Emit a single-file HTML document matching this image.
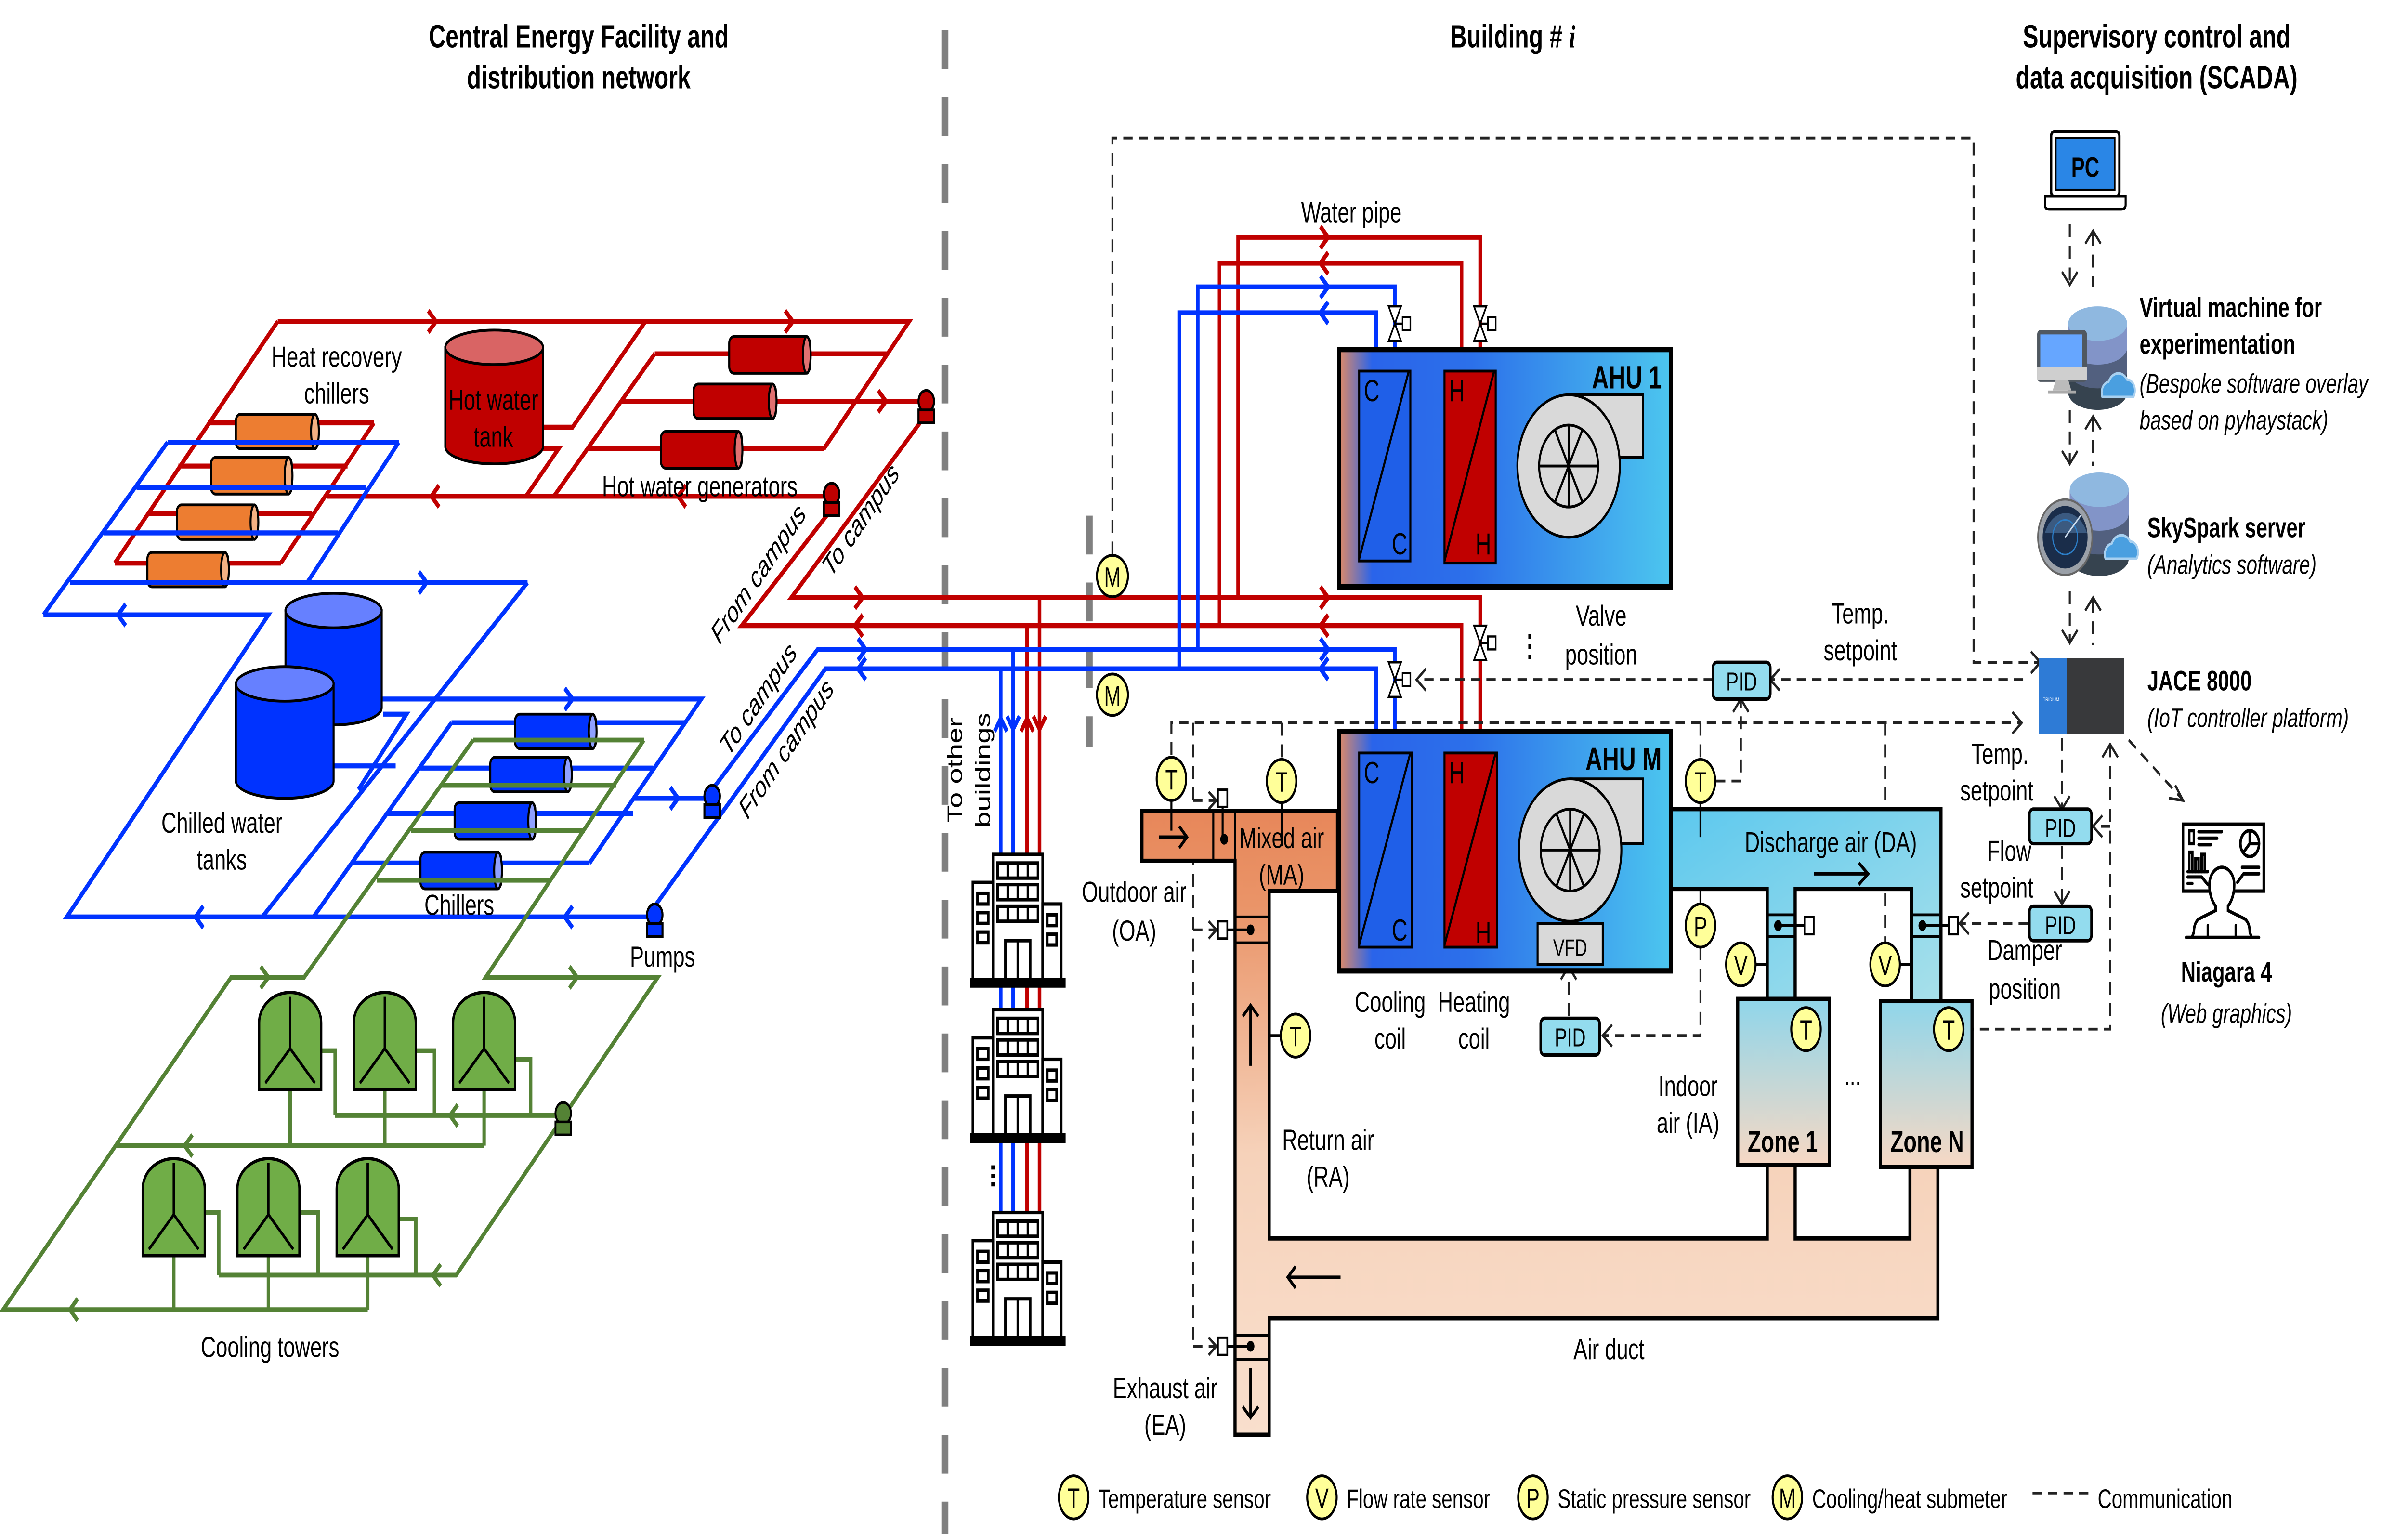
<!DOCTYPE html>
<html><head><meta charset="utf-8"><style>
html,body{margin:0;padding:0;background:#fff;width:100%;height:100%;overflow:hidden;}
svg{display:block;position:fixed;left:0;top:0;width:100vw;height:100vh;}
text{font-family:"Liberation Sans",Arial,sans-serif;}
</style></head><body>
<svg xmlns="http://www.w3.org/2000/svg" viewBox="0 0 1552 711" preserveAspectRatio="none">
<defs>
<linearGradient id="ahu" x1="0" y1="0" x2="1" y2="0">
<stop offset="0" stop-color="#e08a66"/><stop offset="0.1" stop-color="#2a64ea"/><stop offset="0.4" stop-color="#2c70ea"/><stop offset="1" stop-color="#4cc6ef"/></linearGradient>
<linearGradient id="ret" x1="0" y1="376" x2="0" y2="665" gradientUnits="userSpaceOnUse">
<stop offset="0" stop-color="#e7875a"/><stop offset="0.15" stop-color="#ea9468"/><stop offset="0.55" stop-color="#f6d2ba"/><stop offset="1" stop-color="#f9dfcd"/></linearGradient>
<linearGradient id="dis" x1="0" y1="0" x2="1" y2="1">
<stop offset="0" stop-color="#5cc8ee"/><stop offset="1" stop-color="#a8e0ea"/></linearGradient>
<linearGradient id="zone" x1="0" y1="0" x2="0" y2="1">
<stop offset="0" stop-color="#8fd6ea"/><stop offset="1" stop-color="#f7d8c4"/></linearGradient>
<g id="bld" fill="none" stroke="#000" stroke-width="1.6">
<rect x="14" y="0" width="32" height="58" fill="#fff"/>
<rect x="1" y="13" width="13" height="45" fill="#fff"/>
<rect x="46" y="23" width="12" height="35" fill="#fff"/>
<rect x="17" y="4" width="26" height="7"/><line x1="23.5" y1="4" x2="23.5" y2="11"/><line x1="30" y1="4" x2="30" y2="11"/><line x1="36.5" y1="4" x2="36.5" y2="11"/>
<rect x="17" y="14" width="26" height="7"/><line x1="23.5" y1="14" x2="23.5" y2="21"/><line x1="30" y1="14" x2="30" y2="21"/><line x1="36.5" y1="14" x2="36.5" y2="21"/>
<rect x="17" y="24" width="26" height="7"/><line x1="23.5" y1="24" x2="23.5" y2="31"/><line x1="30" y1="24" x2="30" y2="31"/><line x1="36.5" y1="24" x2="36.5" y2="31"/>
<rect x="4" y="18" width="7" height="5"/><rect x="4" y="27" width="7" height="5"/><rect x="4" y="36" width="7" height="5"/>
<rect x="49" y="28" width="6" height="5"/><rect x="49" y="37" width="6" height="5"/>
<rect x="22" y="40" width="16" height="18"/><line x1="30" y1="40" x2="30" y2="58"/>
<rect x="0" y="58" width="60" height="3" fill="#000"/>
</g>
<g id="ct" stroke="#000" stroke-width="1.5">
<path d="M0,45 V14 A20,14 0 0 1 40,14 V45 Z" fill="#70ad47"/>
<polyline points="20,2 20,26 4,42" fill="none"/><line x1="20" y1="26" x2="36" y2="42"/>
</g>
<g id="db">
<path d="M0,8 V40 A19,8 0 0 0 38,40 V8 Z" fill="#36434f"/>
<path d="M0,8 V30 A19,8 0 0 0 38,30 V8 Z" fill="#52607f"/>
<path d="M0,8 V19 A19,8 0 0 0 38,19 V8 Z" fill="#8294c8"/>
<ellipse cx="19" cy="8" rx="19" ry="8" fill="#8fb8e0"/>
</g>
<g id="cloud"><path d="M2,13 a5,5 0 0 1 4,-7 a7,7 0 0 1 12,-1 a5,5 0 0 1 4,8 Z" fill="#4a9fe0" stroke="#a8d0f0" stroke-width="1.2"/></g>
</defs>

<g font-weight="bold" font-size="15" text-anchor="middle">
<text x="373" y="22">Central Energy Facility and</text>
<text x="373" y="41">distribution network</text>
<text x="975" y="22">Building # <tspan font-style="italic" font-family="Liberation Serif,serif">i</tspan></text>
<text x="1390" y="22">Supervisory control and</text>
<text x="1390" y="41">data acquisition (SCADA)</text>
</g>

<line x1="609" y1="14" x2="609" y2="711" stroke="#808080" stroke-width="4.5" stroke-dasharray="18,13"/>
<line x1="702" y1="239" x2="702" y2="346" stroke="#808080" stroke-width="4.5" stroke-dasharray="18,13"/>

<g stroke="#c00000" stroke-width="2.3" fill="none">
<polyline points="179,149 586,149 531,208"/>
<line x1="179" y1="149" x2="74" y2="261"/>
<line x1="241" y1="196" x2="181" y2="261"/>
<line x1="134" y1="196" x2="241" y2="196"/><line x1="115" y1="216" x2="224" y2="216"/>
<line x1="96" y1="238" x2="201" y2="238"/><line x1="74" y1="261" x2="181" y2="261"/>
<line x1="211" y1="230" x2="536" y2="230"/>
<polyline points="350,198 369,198 416,149"/><polyline points="350,208 360,208 339,230"/>
<line x1="422" y1="164" x2="572" y2="164"/><line x1="401" y1="186" x2="592" y2="186"/><line x1="379" y1="208" x2="531" y2="208"/>
<line x1="422" y1="164" x2="357" y2="230"/><line x1="572" y1="164" x2="531" y2="208"/>
<polyline points="597,192 510,277 954,277 954,340"/>
<polyline points="536,236 478,290 942,290 942,340"/>
<polyline points="798,277 798,110 954,110 954,172"/>
<polyline points="786,290 786,122 942,122 942,172"/>
<line x1="662" y1="290" x2="662" y2="396"/><line x1="670" y1="277" x2="670" y2="396"/>
<line x1="662" y1="457" x2="662" y2="470"/><line x1="670" y1="457" x2="670" y2="470"/>
<line x1="662" y1="528" x2="662" y2="563"/><line x1="670" y1="528" x2="670" y2="563"/>
<polyline points="276,144 281,149 276,154"/><polyline points="506,144 511,149 506,154"/>
<polyline points="283,225 278,230 283,235"/><polyline points="442,225 437,230 442,235"/>
<polyline points="566,181 571,186 566,191"/>
<polyline points="551,272 556,277 551,282"/><polyline points="851,272 856,277 851,282"/>
<polyline points="556,285 551,290 556,295"/><polyline points="856,285 851,290 856,295"/>
<polyline points="851,105 856,110 851,115"/><polyline points="856,117 851,122 856,127"/>
<polyline points="658,339 662,333 666,339"/><polyline points="666,332 670,338 674,332"/>
</g>
<g stroke="#000" stroke-width="1.3">
<rect x="152" y="192" width="53" height="16" rx="3" fill="#ed7d31"/><ellipse cx="203" cy="200" rx="2.5" ry="8" fill="#f4b183"/>
<rect x="136" y="212" width="52" height="17" rx="3" fill="#ed7d31"/><ellipse cx="186" cy="220.5" rx="2.5" ry="8.5" fill="#f4b183"/>
<rect x="114" y="234" width="52" height="16" rx="3" fill="#ed7d31"/><ellipse cx="164" cy="242" rx="2.5" ry="8" fill="#f4b183"/>
<rect x="95" y="256" width="52" height="16" rx="3" fill="#ed7d31"/><ellipse cx="145" cy="264" rx="2.5" ry="8" fill="#f4b183"/>
<rect x="470" y="156" width="52" height="17" rx="3" fill="#c00000"/><ellipse cx="520" cy="164.5" rx="2.5" ry="8.5" fill="#e07070"/>
<rect x="447" y="178" width="53" height="16" rx="3" fill="#c00000"/><ellipse cx="498" cy="186" rx="2.5" ry="8" fill="#e07070"/>
<rect x="426" y="200" width="52" height="17" rx="3" fill="#c00000"/><ellipse cx="476" cy="208.5" rx="2.5" ry="8.5" fill="#e07070"/>
<path d="M287,161 V207 A31.5,8 0 0 0 350,207 V161 Z" fill="#c00000"/>
<ellipse cx="318.5" cy="161" rx="31.5" ry="8" fill="#d96464"/>
<circle cx="597" cy="186" r="5" fill="#c00000"/><rect x="592" y="190" width="10" height="6" fill="#c00000"/>
<circle cx="536" cy="229" r="5" fill="#c00000"/><rect x="531" y="233" width="10" height="6" fill="#c00000"/>
</g>

<g stroke="#0033ff" stroke-width="2.3" fill="none">
<line x1="108" y1="205" x2="257" y2="205"/><line x1="88" y1="226" x2="236" y2="226"/>
<line x1="67" y1="247" x2="218" y2="247"/><line x1="45" y1="270" x2="340" y2="270"/>
<line x1="108" y1="205" x2="28" y2="285"/><line x1="257" y1="205" x2="198" y2="270"/>
<polyline points="28,285 173,285 43,425 422,425"/>
<line x1="340" y1="270" x2="169" y2="425"/>
<polyline points="246,324 452,324 380,400"/>
<line x1="291" y1="335" x2="441" y2="335"/><line x1="271" y1="356" x2="421" y2="356"/>
<line x1="249" y1="377" x2="408" y2="377"/><line x1="227" y1="400" x2="380" y2="400"/>
<line x1="291" y1="335" x2="202" y2="425"/>
<line x1="215" y1="355" x2="255" y2="355"/><polyline points="247,331 262,331 231,366"/>
<line x1="408" y1="370" x2="459" y2="370"/>
<polyline points="459,366 527,301 899,301 899,349"/>
<polyline points="422,420 532,310 887,310 887,349"/>
<polyline points="772,301 772,133 899,133 899,172"/>
<polyline points="760,310 760,145 887,145 887,172"/>
<line x1="645" y1="310" x2="645" y2="396"/><line x1="653" y1="301" x2="653" y2="396"/>
<line x1="645" y1="457" x2="645" y2="470"/><line x1="653" y1="457" x2="653" y2="470"/>
<line x1="645" y1="528" x2="645" y2="563"/><line x1="653" y1="528" x2="653" y2="563"/>
<polyline points="81,280 76,285 81,290"/><polyline points="270,265 275,270 270,275"/>
<polyline points="131,420 126,425 131,430"/><polyline points="369,420 364,425 369,430"/>
<polyline points="364,319 369,324 364,329"/><polyline points="432,365 437,370 432,375"/>
<polyline points="553,296 558,301 553,306"/><polyline points="558,305 553,310 558,315"/>
<polyline points="851,296 856,301 851,306"/><polyline points="856,305 851,310 856,315"/>
<polyline points="851,128 856,133 851,138"/><polyline points="856,140 851,145 856,150"/>
<polyline points="641,339 645,333 649,339"/><polyline points="649,332 653,338 657,332"/>
</g>
<g stroke="#000" stroke-width="1.3">
<path d="M184,283 V328 A31,8 0 0 0 246,328 V283 Z" fill="#0033ff"/><ellipse cx="215" cy="283" rx="31" ry="8" fill="#6680ff"/>
<path d="M152,317 V362 A31.5,8 0 0 0 215,362 V317 Z" fill="#0033ff"/><ellipse cx="183.5" cy="317" rx="31.5" ry="8" fill="#6680ff"/>
<rect x="332" y="331" width="52" height="16" rx="3" fill="#0033ff"/><ellipse cx="382" cy="339" rx="2.5" ry="8" fill="#8fa0ff"/>
<rect x="316" y="351" width="52" height="16" rx="3" fill="#0033ff"/><ellipse cx="366" cy="359" rx="2.5" ry="8" fill="#8fa0ff"/>
<rect x="293" y="372" width="52" height="17" rx="3" fill="#0033ff"/><ellipse cx="343" cy="380.5" rx="2.5" ry="8.5" fill="#8fa0ff"/>
<rect x="271" y="395" width="52" height="17" rx="3" fill="#0033ff"/><ellipse cx="321" cy="403.5" rx="2.5" ry="8.5" fill="#8fa0ff"/>
<circle cx="459" cy="369" r="5" fill="#0033ff"/><rect x="454" y="373" width="10" height="6" fill="#0033ff"/>
<circle cx="422" cy="424" r="5" fill="#0033ff"/><rect x="417" y="428" width="10" height="6" fill="#0033ff"/>
</g>

<g stroke="#548235" stroke-width="2.2" fill="none">
<line x1="305" y1="343" x2="415" y2="343"/><line x1="285" y1="364" x2="397" y2="364"/>
<line x1="265" y1="385" x2="377" y2="385"/><line x1="243" y1="408" x2="355" y2="408"/>
<polyline points="305,343 196,453 149,453 2,607 237,607"/>
<polyline points="415,343 313,453 424,453 294,591 141,591"/>
<line x1="75" y1="531" x2="312" y2="531"/><line x1="216" y1="517" x2="363" y2="517"/>
<line x1="187" y1="505" x2="187" y2="531"/><line x1="248" y1="505" x2="248" y2="531"/><line x1="312" y1="505" x2="312" y2="531"/>
<polyline points="207,487 216,487 216,517"/><polyline points="268,487 280,487 280,517"/><polyline points="332,491 342,491 342,517"/>
<line x1="112" y1="582" x2="112" y2="607"/><line x1="173" y1="582" x2="173" y2="607"/><line x1="237" y1="582" x2="237" y2="607"/>
<polyline points="132,562 141,562 141,591"/><polyline points="193,562 205,562 205,591"/><polyline points="257,565 268,565 268,591"/>
<polyline points="168,448 173,453 168,458"/><polyline points="367,448 372,453 367,458"/>
<polyline points="124,526 119,531 124,536"/><polyline points="295,512 290,517 295,522"/>
<polyline points="50,602 45,607 50,612"/><polyline points="284,586 279,591 284,596"/>
</g>
<use href="#ct" x="167" y="460"/><use href="#ct" x="228" y="460"/><use href="#ct" x="292" y="460"/>
<use href="#ct" x="92" y="537"/><use href="#ct" x="153" y="537"/><use href="#ct" x="217" y="537"/>
<g stroke="#000" stroke-width="1.2"><circle cx="363" cy="516" r="5" fill="#548235"/><rect x="358" y="520" width="10" height="6" fill="#548235"/></g>

<g font-size="13.5" text-anchor="middle">
<text x="217" y="170">Heat recovery</text><text x="217" y="187">chillers</text>
<text x="318" y="190">Hot water</text><text x="318" y="207">tank</text>
<text x="451" y="230">Hot water generators</text>
<text x="143" y="386">Chilled water</text><text x="143" y="403">tanks</text>
<text x="296" y="424">Chillers</text>
<text x="427" y="448">Pumps</text>
<text x="174" y="629">Cooling towers</text>
<g font-style="italic">
<text transform="translate(492,269) rotate(-47)">From campus</text>
<text transform="translate(558,244) rotate(-47)">To campus</text>
<text transform="translate(492,327) rotate(-47)">To campus</text>
<text transform="translate(510,350) rotate(-47)">From campus</text>
</g>
<text transform="translate(620,357) rotate(-90)">To other</text>
<text transform="translate(638,357) rotate(-90)">buildings</text>
</g>
<use href="#bld" x="626" y="396"/><use href="#bld" x="626" y="468"/><use href="#bld" x="626" y="562"/>
<text x="636" y="550" font-size="14" font-weight="bold" transform="rotate(-90 636 545)" text-anchor="middle">...</text>

<g stroke="#222" stroke-width="1.3" fill="none" stroke-dasharray="6,4">
<polyline points="717,257 717,64 1272,64 1272,307 1314,307"/>
<polyline points="1304,315 1141,315"/><polyline points="1104,315 913,315"/>
<polyline points="755,350 755,335 1303,335"/>
<line x1="769" y1="335" x2="769" y2="625"/>
<line x1="769" y1="371" x2="784" y2="371"/><line x1="769" y1="431" x2="784" y2="431"/><line x1="769" y1="624" x2="784" y2="624"/>
<line x1="826" y1="335" x2="826" y2="352"/>
<line x1="1096" y1="335" x2="1096" y2="352"/>
<polyline points="1106,362 1122,362 1122,325"/>
<polyline points="1096,439 1096,480 1033,480"/>
<line x1="1011" y1="471" x2="1011" y2="449"/>
<line x1="1215" y1="335" x2="1215" y2="373"/><line x1="1215" y1="414" x2="1215" y2="437"/>
<polyline points="1266,477 1360,477 1360,346"/>
<line x1="1360" y1="383" x2="1350" y2="383"/>
<line x1="1329" y1="342" x2="1329" y2="374"/><line x1="1329" y1="392" x2="1329" y2="418"/>
<line x1="1307" y1="428" x2="1263" y2="428"/>
<line x1="1334" y1="104" x2="1334" y2="131"/><line x1="1349" y1="108" x2="1349" y2="133"/>
<line x1="1334" y1="190" x2="1334" y2="214"/><line x1="1349" y1="194" x2="1349" y2="216"/>
<line x1="1334" y1="274" x2="1334" y2="297"/><line x1="1349" y1="278" x2="1349" y2="299"/>
<line x1="1372" y1="343" x2="1406" y2="370"/>
<line x1="1310" y1="692" x2="1346" y2="692"/>
</g>
<g stroke="#222" stroke-width="1.3" fill="none">
<polyline points="1309,302 1315,307 1309,312"/><polyline points="1147,310 1141,315 1147,320"/>
<polyline points="919,310 913,315 919,320"/><polyline points="1297,330 1303,335 1297,340"/>
<polyline points="1117,330 1122,324 1127,330"/><polyline points="1039,475 1033,480 1039,485"/>
<polyline points="1006,454 1011,448 1016,454"/>
<polyline points="1355,351 1360,345 1365,351"/><polyline points="1355,378 1349,383 1355,388"/>
<polyline points="1324,369 1329,375 1334,369"/><polyline points="1324,413 1329,419 1334,413"/>
<polyline points="1269,423 1263,428 1269,433"/>
<polyline points="1329,126 1334,132 1339,126"/><polyline points="1344,113 1349,107 1354,113"/>
<polyline points="1329,209 1334,215 1339,209"/><polyline points="1344,199 1349,193 1354,199"/>
<polyline points="1329,292 1334,298 1339,292"/><polyline points="1344,283 1349,277 1354,283"/>
<polyline points="1398,370 1407,371 1402,364"/>
<polyline points="779,367 784,371 779,375"/><polyline points="779,427 784,431 779,435"/><polyline points="779,620 784,624 779,628"/>
</g>

<rect x="863" y="162" width="214" height="110" fill="url(#ahu)" stroke="#000" stroke-width="2.5"/>
<g stroke="#000" stroke-width="1.3">
<rect x="876" y="172" width="33" height="88" fill="#1f5fe8"/><line x1="876" y1="259" x2="908" y2="172"/>
<rect x="931" y="172" width="33" height="89" fill="#c00000"/><line x1="931" y1="260" x2="963" y2="172"/>
<rect x="1011" y="183" width="48" height="29" fill="#d9d9d9"/>
<ellipse cx="1011" cy="216" rx="33" ry="33" fill="#d9d9d9"/>
<circle cx="1011" cy="216" r="19" fill="none"/>
<path d="M992,216 H1030 M1011,197 V235 M1002,199 L1020,233 M1020,199 L1002,233" fill="none"/>
</g>
<g font-size="14"><text x="879" y="186">C</text><text x="897" y="257">C</text><text x="934" y="186">H</text><text x="951" y="257">H</text></g>
<text x="1071" y="180" font-size="15" font-weight="bold" text-anchor="end">AHU 1</text>

<path d="M736,376 H862 V413 H818 V574 H1139 V540 H1157 V574 H1231 V541 H1249 V611 H818 V665 H796 V399 H736 Z" fill="url(#ret)" stroke="#000" stroke-width="2"/>
<path d="M1077,375 H1251 V464 H1232 V412 H1157 V463 H1139 V412 H1077 Z" fill="url(#dis)" stroke="#000" stroke-width="2"/>
<g stroke="#000" stroke-width="1.3" fill="none">
<line x1="782" y1="376" x2="782" y2="399"/><line x1="796" y1="376" x2="796" y2="399"/>
<line x1="796" y1="425" x2="818" y2="425"/><line x1="796" y1="437" x2="818" y2="437"/>
<line x1="796" y1="619" x2="818" y2="619"/><line x1="796" y1="630" x2="818" y2="630"/>
<line x1="1139" y1="424" x2="1157" y2="424"/><line x1="1139" y1="434" x2="1157" y2="434"/>
<line x1="1232" y1="424" x2="1250" y2="424"/><line x1="1232" y1="434" x2="1250" y2="434"/>
<polyline points="788,374 788,388"/><polyline points="789,431 806,431"/><polyline points="789,624 806,624"/>
<polyline points="1148,429 1163,429"/><polyline points="1241,429 1256,429"/>
</g>
<g fill="#fff" stroke="#000" stroke-width="1.1">
<rect x="785" y="366" width="6" height="8"/><rect x="785" y="427" width="6" height="8"/><rect x="785" y="620" width="6" height="8"/>
<rect x="1163" y="425" width="6" height="8"/><rect x="1256" y="425" width="6" height="8"/>
</g>
<g fill="#000"><circle cx="789" cy="389" r="2.5"/><circle cx="806" cy="431" r="2.5"/><circle cx="806" cy="624" r="2.5"/><circle cx="1146" cy="429" r="2.5"/><circle cx="1239" cy="429" r="2.5"/></g>

<rect x="863" y="339" width="214" height="111" fill="url(#ahu)" stroke="#000" stroke-width="2.5"/>
<g stroke="#000" stroke-width="1.3">
<rect x="876" y="349" width="34" height="90" fill="#1f5fe8"/><line x1="876" y1="438" x2="909" y2="349"/>
<rect x="931" y="349" width="34" height="90" fill="#c00000"/><line x1="931" y1="438" x2="964" y2="349"/>
<rect x="1012" y="361" width="47" height="30" fill="#d9d9d9"/>
<ellipse cx="1012" cy="394" rx="33" ry="33" fill="#d9d9d9"/>
<circle cx="1012" cy="394" r="19" fill="none"/>
<path d="M993,394 H1031 M1012,375 V413 M1003,377 L1021,411 M1021,377 L1003,411" fill="none"/>
<rect x="991" y="428" width="42" height="19" fill="#d9d9d9"/>
</g>
<g font-size="14"><text x="879" y="363">C</text><text x="897" y="436">C</text><text x="934" y="363">H</text><text x="951" y="437">H</text></g>
<text x="1012" y="443" font-size="11" text-anchor="middle">VFD</text>
<text x="1071" y="357" font-size="15" font-weight="bold" text-anchor="end">AHU M</text>

<rect x="1120" y="463" width="59" height="77" fill="url(#zone)" stroke="#000" stroke-width="2"/>
<rect x="1212" y="464" width="59" height="77" fill="url(#zone)" stroke="#000" stroke-width="2"/>
<g font-size="14" font-weight="bold" text-anchor="middle"><text x="1149" y="534">Zone 1</text><text x="1242" y="534">Zone N</text></g>
<text x="1194" y="503" font-size="13" text-anchor="middle">...</text>

<g stroke="#000" stroke-width="1" fill="#fff">
<g transform="translate(899,150)"><polygon points="-4,-8 4,-8 0,0"/><polygon points="-4,8 4,8 0,0"/><line x1="0" y1="0" x2="5" y2="0"/><rect x="5" y="-3" width="5" height="6"/></g>
<g transform="translate(954,150)"><polygon points="-4,-8 4,-8 0,0"/><polygon points="-4,8 4,8 0,0"/><line x1="0" y1="0" x2="5" y2="0"/><rect x="5" y="-3" width="5" height="6"/></g>
<g transform="translate(954,298)"><polygon points="-4,-8 4,-8 0,0"/><polygon points="-4,8 4,8 0,0"/><line x1="0" y1="0" x2="5" y2="0"/><rect x="5" y="-3" width="5" height="6"/></g>
<g transform="translate(899,315)"><polygon points="-4,-8 4,-8 0,0"/><polygon points="-4,8 4,8 0,0"/><line x1="0" y1="0" x2="5" y2="0"/><rect x="5" y="-3" width="5" height="6"/></g>
</g>
<text x="986" y="304" font-size="14" font-weight="bold" text-anchor="middle">⋮</text>

<g stroke="#000" stroke-width="1.3">
<line x1="755" y1="370" x2="755" y2="385"/><line x1="826" y1="372" x2="826" y2="392"/>
<line x1="1096" y1="372" x2="1096" y2="388"/><line x1="1096" y1="412" x2="1096" y2="419"/>
<line x1="1132" y1="447" x2="1139" y2="447"/><line x1="1225" y1="447" x2="1232" y2="447"/>
<line x1="818" y1="480" x2="825" y2="480"/>
</g>
<g stroke="#000" stroke-width="1.3" fill="#ffff99">
<ellipse cx="755" cy="361" rx="9.5" ry="10"/><ellipse cx="826" cy="362" rx="9.5" ry="10"/>
<ellipse cx="1096" cy="362" rx="9.5" ry="10"/><ellipse cx="1096" cy="429" rx="9.5" ry="10"/>
<ellipse cx="1122" cy="447" rx="9.5" ry="10"/><ellipse cx="1215" cy="447" rx="9.5" ry="10"/>
<ellipse cx="1164" cy="477" rx="9.5" ry="10"/><ellipse cx="1256" cy="477" rx="9.5" ry="10"/>
<ellipse cx="835" cy="480" rx="9.5" ry="10"/>
<ellipse cx="717" cy="267" rx="10" ry="9.6"/><ellipse cx="717" cy="322" rx="10" ry="9.6"/>
<ellipse cx="692" cy="694" rx="9.5" ry="10"/><ellipse cx="852" cy="694" rx="9.5" ry="10"/>
<ellipse cx="988" cy="694" rx="9.5" ry="10"/><ellipse cx="1152" cy="694" rx="9.5" ry="10"/>
</g>
<g font-size="13" text-anchor="middle">
<text x="755" y="366">T</text><text x="826" y="367">T</text><text x="1096" y="367">T</text><text x="1096" y="434">P</text>
<text x="1122" y="452">V</text><text x="1215" y="452">V</text><text x="1164" y="482">T</text><text x="1256" y="482">T</text>
<text x="835" y="485">T</text><text x="717" y="272">M</text><text x="717" y="327">M</text>
<text x="692" y="699">T</text><text x="852" y="699">V</text><text x="988" y="699">P</text><text x="1152" y="699">M</text>
</g>
<g font-size="12.5">
<text x="708" y="699">Temperature sensor</text><text x="868" y="699">Flow rate sensor</text>
<text x="1004" y="699">Static pressure sensor</text><text x="1168" y="699">Cooling/heat submeter</text>
<text x="1352" y="699">Communication</text>
</g>

<g stroke="#000" stroke-width="1.6" fill="#93dcee">
<rect x="1104" y="307" width="37" height="17" rx="2.5"/>
<rect x="993" y="472" width="38" height="17" rx="2.5"/>
<rect x="1308" y="375" width="40" height="16" rx="2.5"/>
<rect x="1308" y="420" width="40" height="16" rx="2.5"/>
</g>
<g font-size="12" text-anchor="middle">
<text x="1122.5" y="320">PID</text><text x="1012" y="485">PID</text>
<text x="1328" y="388">PID</text><text x="1328" y="433">PID</text>
</g>

<g stroke="#000" stroke-width="1.6" fill="none">
<line x1="747" y1="388" x2="765" y2="388"/><polyline points="760,383 765,388 760,393"/>
<line x1="806" y1="494" x2="806" y2="466"/><polyline points="801,471 806,466 811,471"/>
<line x1="864" y1="592" x2="830" y2="592"/><polyline points="835,587 830,592 835,597"/>
<line x1="806" y1="634" x2="806" y2="657"/><polyline points="801,652 806,657 811,652"/>
<line x1="1169" y1="405" x2="1204" y2="405"/><polyline points="1198,400 1204,405 1198,410"/>
</g>

<g font-size="13.5" text-anchor="middle">
<text x="871" y="103">Water pipe</text>
<text x="1032" y="290">Valve</text><text x="1032" y="308">position</text>
<text x="1199" y="289">Temp.</text><text x="1199" y="306">setpoint</text>
<text x="731" y="418">Outdoor air</text><text x="731" y="436">(OA)</text>
<text x="826" y="393">Mixed air</text><text x="826" y="410">(MA)</text>
<text x="896" y="469">Cooling</text><text x="896" y="486">coil</text>
<text x="950" y="469">Heating</text><text x="950" y="486">coil</text>
<text x="1180" y="395">Discharge air (DA)</text>
<text x="1088" y="508">Indoor</text><text x="1088" y="525">air (IA)</text>
<text x="856" y="533">Return air</text><text x="856" y="550">(RA)</text>
<text x="1037" y="630">Air duct</text>
<text x="751" y="648">Exhaust air</text><text x="751" y="665">(EA)</text>
<text x="1289" y="354">Temp.</text><text x="1287" y="371">setpoint</text>
<text x="1295" y="399">Flow</text><text x="1287" y="416">setpoint</text>
<text x="1305" y="445">Damper</text><text x="1305" y="463">position</text>
</g>

<g>
<rect x="1322" y="61" width="44" height="30" rx="2" fill="#fff" stroke="#000" stroke-width="1.5"/>
<rect x="1325" y="64" width="38" height="24" fill="#2a86e6" stroke="#000" stroke-width="1"/>
<path d="M1318,91 H1370 V95 Q1370,97 1367,97 H1321 Q1318,97 1318,95 Z" fill="#fff" stroke="#000" stroke-width="1.3"/>
<text x="1344" y="82" font-size="13" font-weight="bold" text-anchor="middle">PC</text>
</g>
<use href="#db" x="1333" y="142"/>
<g><rect x="1313" y="153" width="32" height="24" rx="2" fill="#505860"/><rect x="1315" y="155" width="27" height="15" fill="#66a6ff"/><rect x="1313" y="170" width="32" height="6" fill="#cfcfcf"/><path d="M1325,176 h8 l2,5 h-12 z" fill="#bbb"/><rect x="1320" y="181" width="18" height="1.5" fill="#aaa"/></g>
<use href="#cloud" x="1353" y="171"/>
<use href="#db" x="1334" y="219"/>
<circle cx="1331" cy="249" r="17.5" fill="#9aa0a8" stroke="#666" stroke-width="1"/>
<circle cx="1331" cy="249" r="14.5" fill="#1a2d4a"/>
<path d="M1318,247 A14.5,14.5 0 0 1 1345,247 Z" fill="#3b5a80"/>
<circle cx="1331" cy="249" r="8" fill="none" stroke="#2c7ec8" stroke-width="0.7"/>
<line x1="1331" y1="249" x2="1341" y2="239" stroke="#cde" stroke-width="0.8"/>
<use href="#cloud" x="1355" y="246"/>
<rect x="1314" y="305" width="18" height="35" fill="#2e7bd6"/>
<rect x="1332" y="305" width="37" height="35" fill="#38393b"/>
<text x="1322" y="325" font-size="2.5" fill="#fff" text-anchor="middle">TRIDIUM</text>
<g stroke="#000" stroke-width="1.6" fill="none" stroke-linecap="round">
<rect x="1407" y="382" width="52" height="31"/>
<rect x="1411" y="385" width="3" height="6"/>
<line x1="1417" y1="385.5" x2="1432" y2="385.5"/><line x1="1417" y1="388.5" x2="1429" y2="388.5"/><line x1="1417" y1="391.5" x2="1425" y2="391.5"/>
<path d="M1411,404 V395 H1413 V404 M1415,404 V398 H1417 V404 M1419,404 V396 H1421 V404"/>
<line x1="1410" y1="404" x2="1423" y2="404"/><polyline points="1410,406.5 1419,406.5 1423,410"/><line x1="1410" y1="409.5" x2="1413" y2="409.5"/>
<circle cx="1450" cy="391" r="6"/><polyline points="1450,385 1450,391 1456,391"/><line x1="1450" y1="391" x2="1446" y2="395"/>
<line x1="1445" y1="402" x2="1456" y2="402"/><polyline points="1456,405 1446,405 1442,409"/>
<path d="M1428,420 Q1424,416 1424,410 A8,8 0 0 1 1440,410 Q1440,416 1436,420 L1436,422 L1447,426 Q1450,428 1450,432 L1451,434 M1428,420 L1428,422 L1417,426 Q1414,428 1414,432 L1413,434" fill="#fff"/>
<line x1="1409" y1="434.5" x2="1456" y2="434.5"/>
<line x1="1423" y1="429" x2="1423" y2="434"/><line x1="1441" y1="429" x2="1441" y2="434"/>
</g>

<g font-size="13" font-weight="bold">
<text x="1379" y="147">Virtual machine for</text>
<text x="1379" y="164">experimentation</text>
<text x="1384" y="249">SkySpark server</text>
<text x="1384" y="320">JACE 8000</text>
<text x="1435" y="455" text-anchor="middle">Niagara 4</text>
</g>
<g font-size="12.5" font-style="italic">
<text x="1379" y="182" font-family="Liberation Serif,serif">(Bespoke software overlay</text>
<text x="1379" y="199" font-family="Liberation Serif,serif">based on pyhaystack)</text>
<text x="1384" y="266" font-family="Liberation Serif,serif">(Analytics software)</text>
<text x="1384" y="337" font-family="Liberation Serif,serif">(IoT controller platform)</text>
<text x="1435" y="474" text-anchor="middle" font-family="Liberation Serif,serif">(Web graphics)</text>
</g>
</svg>
</body></html>
